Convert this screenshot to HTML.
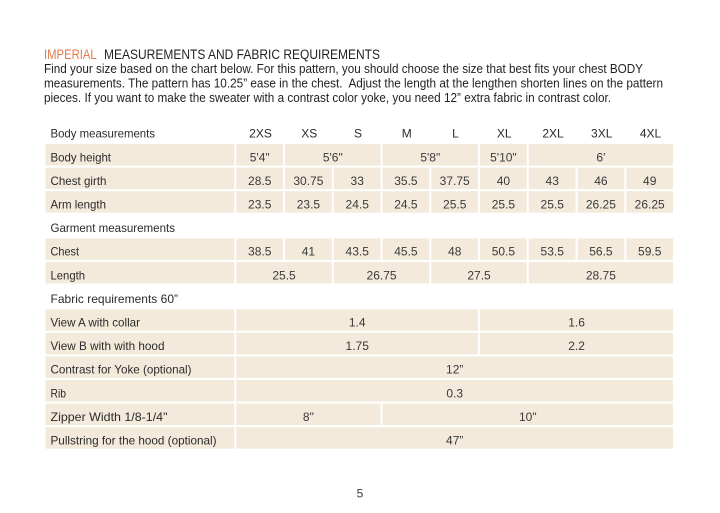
<!DOCTYPE html>
<html>
<head>
<meta charset="utf-8">
<style>
  html,body{margin:0;padding:0;background:#fff;}
  svg{display:block;}
  text{font-family:"Liberation Sans",Arial,sans-serif;white-space:pre;}
  .t{font-size:13.5px;fill:#231f20;}
  .p{font-size:12.5px;fill:#231f20;}
  .l{font-size:12px;fill:#2b2b2b;}
  .v{font-size:12px;fill:#3a3a3a;text-anchor:middle;}
  .h{font-size:12px;fill:#2b2b2b;text-anchor:middle;}
  rect.c{fill:#f3eadb;}
</style>
</head>
<body>
<svg width="720" height="513" viewBox="0 0 720 513" xmlns="http://www.w3.org/2000/svg">
<rect x="0" y="0" width="720" height="513" fill="#fff"/>

<!-- Title -->
<text class="t" x="44" y="59" fill="#e4794b" style="fill:#e4794b" textLength="52.7" lengthAdjust="spacingAndGlyphs">IMPERIAL</text>
<text class="t" x="104" y="59" textLength="276" lengthAdjust="spacingAndGlyphs">MEASUREMENTS AND FABRIC REQUIREMENTS</text>

<!-- Paragraph -->
<text class="p" x="44" y="73" textLength="599" lengthAdjust="spacingAndGlyphs">Find your size based on the chart below. For this pattern, you should choose the size that best fits your chest BODY</text>
<text class="p" x="44" y="87.6" textLength="619" lengthAdjust="spacingAndGlyphs">measurements. The pattern has 10.25” ease in the chest.  Adjust the length at the lengthen shorten lines on the pattern</text>
<text class="p" x="44" y="102.2" textLength="567" lengthAdjust="spacingAndGlyphs">pieces. If you want to make the sweater with a contrast color yoke, you need 12” extra fabric in contrast color.</text>

<!-- Header row -->
<text class="l" x="50.5" y="137.7" textLength="104.5" lengthAdjust="spacingAndGlyphs">Body measurements</text>
<text class="h" x="260.5" y="137.7">2XS</text>
<text class="h" x="309.2" y="137.7">XS</text>
<text class="h" x="358" y="137.7">S</text>
<text class="h" x="406.7" y="137.7">M</text>
<text class="h" x="455.5" y="137.7">L</text>
<text class="h" x="504.2" y="137.7">XL</text>
<text class="h" x="553" y="137.7">2XL</text>
<text class="h" x="601.7" y="137.7">3XL</text>
<text class="h" x="650.5" y="137.7">4XL</text>

<!-- Body height -->
<rect class="c" x="45.5" y="144" width="188.8" height="21.5"/>
<rect class="c" x="236.3" y="144" width="46.75" height="21.5"/>
<rect class="c" x="285.05" y="144" width="95.5" height="21.5"/>
<rect class="c" x="382.55" y="144" width="95.5" height="21.5"/>
<rect class="c" x="480.05" y="144" width="46.75" height="21.5"/>
<rect class="c" x="528.8" y="144" width="144.25" height="21.5"/>
<text class="l" x="50.5" y="161.3" textLength="60.5" lengthAdjust="spacingAndGlyphs">Body height</text>
<text class="v" x="259.7" y="161.3">5'4"</text>
<text class="v" x="332.8" y="161.3">5'6"</text>
<text class="v" x="430.3" y="161.3">5'8"</text>
<text class="v" x="503.4" y="161.3">5'10"</text>
<text class="v" x="600.9" y="161.3">6′</text>

<!-- Chest girth -->
<rect class="c" x="45.5" y="167.6" width="188.8" height="21.5"/>
<rect class="c" x="236.3" y="167.6" width="46.75" height="21.5"/>
<rect class="c" x="285.05" y="167.6" width="46.75" height="21.5"/>
<rect class="c" x="333.8" y="167.6" width="46.75" height="21.5"/>
<rect class="c" x="382.55" y="167.6" width="46.75" height="21.5"/>
<rect class="c" x="431.3" y="167.6" width="46.75" height="21.5"/>
<rect class="c" x="480.05" y="167.6" width="46.75" height="21.5"/>
<rect class="c" x="528.8" y="167.6" width="46.75" height="21.5"/>
<rect class="c" x="577.55" y="167.6" width="46.75" height="21.5"/>
<rect class="c" x="626.3" y="167.6" width="46.75" height="21.5"/>
<text class="l" x="50.5" y="184.9" textLength="56" lengthAdjust="spacingAndGlyphs">Chest girth</text>
<text class="v" x="259.7" y="184.9">28.5</text>
<text class="v" x="308.4" y="184.9">30.75</text>
<text class="v" x="357.2" y="184.9">33</text>
<text class="v" x="405.9" y="184.9">35.5</text>
<text class="v" x="454.7" y="184.9">37.75</text>
<text class="v" x="503.4" y="184.9">40</text>
<text class="v" x="552.2" y="184.9">43</text>
<text class="v" x="600.9" y="184.9">46</text>
<text class="v" x="649.7" y="184.9">49</text>

<!-- Arm length -->
<rect class="c" x="45.5" y="191.2" width="188.8" height="21.5"/>
<rect class="c" x="236.3" y="191.2" width="46.75" height="21.5"/>
<rect class="c" x="285.05" y="191.2" width="46.75" height="21.5"/>
<rect class="c" x="333.8" y="191.2" width="46.75" height="21.5"/>
<rect class="c" x="382.55" y="191.2" width="46.75" height="21.5"/>
<rect class="c" x="431.3" y="191.2" width="46.75" height="21.5"/>
<rect class="c" x="480.05" y="191.2" width="46.75" height="21.5"/>
<rect class="c" x="528.8" y="191.2" width="46.75" height="21.5"/>
<rect class="c" x="577.55" y="191.2" width="46.75" height="21.5"/>
<rect class="c" x="626.3" y="191.2" width="46.75" height="21.5"/>
<text class="l" x="50.5" y="208.5" textLength="55.5" lengthAdjust="spacingAndGlyphs">Arm length</text>
<text class="v" x="259.7" y="208.5">23.5</text>
<text class="v" x="308.4" y="208.5">23.5</text>
<text class="v" x="357.2" y="208.5">24.5</text>
<text class="v" x="405.9" y="208.5">24.5</text>
<text class="v" x="454.7" y="208.5">25.5</text>
<text class="v" x="503.4" y="208.5">25.5</text>
<text class="v" x="552.2" y="208.5">25.5</text>
<text class="v" x="600.9" y="208.5">26.25</text>
<text class="v" x="649.7" y="208.5">26.25</text>

<!-- Garment measurements -->
<text class="l" x="50.5" y="232.1" textLength="124.5" lengthAdjust="spacingAndGlyphs">Garment measurements</text>

<!-- Chest -->
<rect class="c" x="45.5" y="238.4" width="188.8" height="21.5"/>
<rect class="c" x="236.3" y="238.4" width="46.75" height="21.5"/>
<rect class="c" x="285.05" y="238.4" width="46.75" height="21.5"/>
<rect class="c" x="333.8" y="238.4" width="46.75" height="21.5"/>
<rect class="c" x="382.55" y="238.4" width="46.75" height="21.5"/>
<rect class="c" x="431.3" y="238.4" width="46.75" height="21.5"/>
<rect class="c" x="480.05" y="238.4" width="46.75" height="21.5"/>
<rect class="c" x="528.8" y="238.4" width="46.75" height="21.5"/>
<rect class="c" x="577.55" y="238.4" width="46.75" height="21.5"/>
<rect class="c" x="626.3" y="238.4" width="46.75" height="21.5"/>
<text class="l" x="50.5" y="255.7" textLength="28.5" lengthAdjust="spacingAndGlyphs">Chest</text>
<text class="v" x="259.7" y="255.7">38.5</text>
<text class="v" x="308.4" y="255.7">41</text>
<text class="v" x="357.2" y="255.7">43.5</text>
<text class="v" x="405.9" y="255.7">45.5</text>
<text class="v" x="454.7" y="255.7">48</text>
<text class="v" x="503.4" y="255.7">50.5</text>
<text class="v" x="552.2" y="255.7">53.5</text>
<text class="v" x="600.9" y="255.7">56.5</text>
<text class="v" x="649.7" y="255.7">59.5</text>

<!-- Length -->
<rect class="c" x="45.5" y="262" width="188.8" height="21.5"/>
<rect class="c" x="236.3" y="262" width="95.5" height="21.5"/>
<rect class="c" x="333.8" y="262" width="95.5" height="21.5"/>
<rect class="c" x="431.3" y="262" width="95.5" height="21.5"/>
<rect class="c" x="528.8" y="262" width="144.25" height="21.5"/>
<text class="l" x="50.5" y="279.3" textLength="34.5" lengthAdjust="spacingAndGlyphs">Length</text>
<text class="v" x="284.05" y="279.3">25.5</text>
<text class="v" x="381.55" y="279.3">26.75</text>
<text class="v" x="479.05" y="279.3">27.5</text>
<text class="v" x="600.9" y="279.3">28.75</text>

<!-- Fabric requirements -->
<text class="l" x="50.5" y="302.9" textLength="127.5" lengthAdjust="spacingAndGlyphs">Fabric requirements 60”</text>

<!-- View A -->
<rect class="c" x="45.5" y="309.2" width="188.8" height="21.5"/>
<rect class="c" x="236.3" y="309.2" width="241.75" height="21.5"/>
<rect class="c" x="480.05" y="309.2" width="193" height="21.5"/>
<text class="l" x="50.5" y="326.5" textLength="89.5" lengthAdjust="spacingAndGlyphs">View A with collar</text>
<text class="v" x="357.2" y="326.5">1.4</text>
<text class="v" x="576.55" y="326.5">1.6</text>

<!-- View B -->
<rect class="c" x="45.5" y="332.8" width="188.8" height="21.5"/>
<rect class="c" x="236.3" y="332.8" width="241.75" height="21.5"/>
<rect class="c" x="480.05" y="332.8" width="193" height="21.5"/>
<text class="l" x="50.5" y="350.1" textLength="114" lengthAdjust="spacingAndGlyphs">View B with with hood</text>
<text class="v" x="357.2" y="350.1">1.75</text>
<text class="v" x="576.55" y="350.1">2.2</text>

<!-- Contrast -->
<rect class="c" x="45.5" y="356.4" width="188.8" height="21.5"/>
<rect class="c" x="236.3" y="356.4" width="436.75" height="21.5"/>
<text class="l" x="50.5" y="373.7" textLength="141" lengthAdjust="spacingAndGlyphs">Contrast for Yoke (optional)</text>
<text class="v" x="454.7" y="373.7">12”</text>

<!-- Rib -->
<rect class="c" x="45.5" y="380" width="188.8" height="21.5"/>
<rect class="c" x="236.3" y="380" width="436.75" height="21.5"/>
<text class="l" x="50.5" y="397.3" textLength="15.5" lengthAdjust="spacingAndGlyphs">Rib</text>
<text class="v" x="454.7" y="397.3">0.3</text>

<!-- Zipper -->
<rect class="c" x="45.5" y="403.6" width="188.8" height="21.5"/>
<rect class="c" x="236.3" y="403.6" width="144.25" height="21.5"/>
<rect class="c" x="382.55" y="403.6" width="290.5" height="21.5"/>
<text class="l" x="50.5" y="420.9" textLength="117" lengthAdjust="spacingAndGlyphs">Zipper Width 1/8-1/4"</text>
<text class="v" x="308.4" y="420.9">8"</text>
<text class="v" x="527.8" y="420.9">10"</text>

<!-- Pullstring -->
<rect class="c" x="45.5" y="427.2" width="188.8" height="21.5"/>
<rect class="c" x="236.3" y="427.2" width="436.75" height="21.5"/>
<text class="l" x="50.5" y="444.5" textLength="166" lengthAdjust="spacingAndGlyphs">Pullstring for the hood (optional)</text>
<text class="v" x="454.7" y="444.5">47”</text>

<!-- Page number -->
<text class="v" x="360" y="497.7">5</text>
</svg>
</body>
</html>
